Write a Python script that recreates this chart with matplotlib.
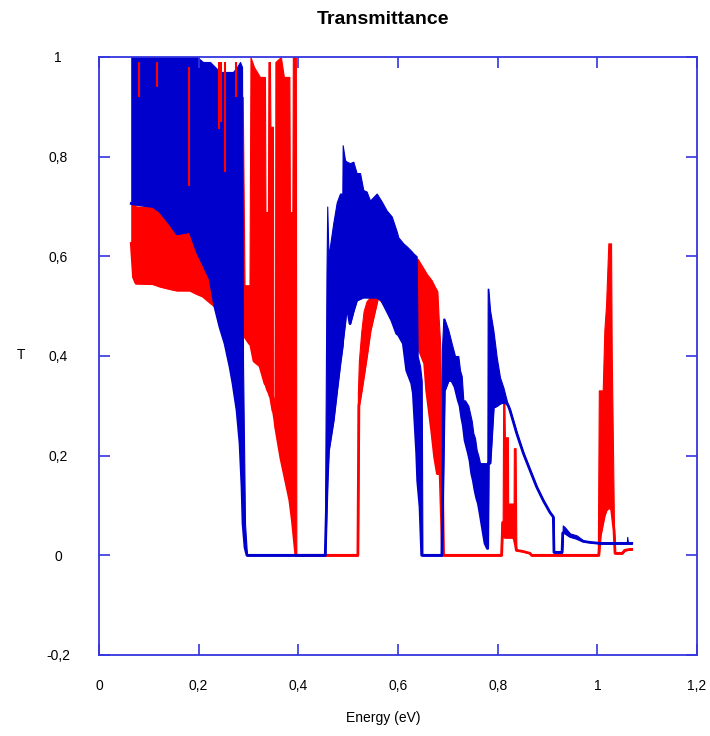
import matplotlib
matplotlib.use("Agg")
import matplotlib.pyplot as plt

# transmittance curves as (energy, lower edge, upper edge)
# of the densely oscillating band
red_x = [0.0648, 0.0692, 0.0743, 0.1084, 0.1224, 0.1425, 0.1565, 0.1826, 0.1967, 0.2087, 0.2228, 0.2328,
         0.2450, 0.2700, 0.2865, 0.2884, 0.2920, 0.3020, 0.3040, 0.3110, 0.3230, 0.3330, 0.3340, 0.3390,
         0.3400, 0.3430, 0.3440, 0.3490, 0.3500, 0.3530, 0.3540, 0.3650, 0.3710, 0.3820, 0.3830, 0.3880,
         0.3890, 0.3950, 0.3960,
         0.5190, 0.5195, 0.5215, 0.5264, 0.5310, 0.5370, 0.5440, 0.5600, 0.5900, 0.6150, 0.6350, 0.6395,
         0.6535, 0.6575, 0.6675, 0.6735, 0.6790, 0.6815, 0.6845, 0.6895, 0.6920,
         0.8060, 0.8080, 0.8100, 0.8110, 0.8135, 0.8145, 0.8205, 0.8210, 0.8320, 0.8325, 0.8360, 0.8375,
         0.8500, 0.8650, 0.8680,
         1.0010, 1.0030, 1.0060, 1.0108, 1.0141, 1.0175, 1.0221, 1.0275, 1.0289, 1.0335, 1.0355, 1.0500,
         1.0550, 1.0660, 1.0690]
red_lo = [0.626, 0.558, 0.546, 0.545, 0.540, 0.535, 0.532, 0.532, 0.525, 0.520, 0.508, 0.500,
          0.500, 0.450, 0.450, 0.445, 0.440, 0.425, 0.425, 0.390, 0.380, 0.345, 0.345, 0.330,
          0.330, 0.320, 0.320, 0.290, 0.290, 0.270, 0.260, 0.195, 0.167, 0.115, 0.110, 0.070,
          0.060, 0.000, 0.000,
          0.000, 0.000, 0.300, 0.330, 0.360, 0.400, 0.450, 0.520, 0.480, 0.450, 0.420, 0.420,
          0.385, 0.331, 0.251, 0.197, 0.164, 0.164, 0.164, 0.000, 0.000,
          0.000, 0.000, 0.066, 0.066, 0.066, 0.036, 0.036, 0.036, 0.036, 0.036, 0.020, 0.010,
          0.008, 0.004, 0.000,
          0.000, 0.000, 0.040, 0.064, 0.080, 0.090, 0.095, 0.095, 0.090, 0.050, 0.004, 0.004,
          0.010, 0.012, 0.012]
red_hi = [0.706, 0.705, 0.700, 0.700, 0.690, 0.665, 0.645, 0.650, 0.610, 0.585, 0.555, 0.520,
          0.900, 0.900, 0.920, 0.920, 0.542, 0.542, 1.000, 0.980, 0.960, 0.960, 0.689, 0.689,
          0.990, 0.990, 0.860, 0.860, 0.320, 0.300, 0.990, 1.000, 0.960, 0.960, 0.689, 0.689,
          1.000, 1.000, 0.000,
          0.000, 0.325, 0.390, 0.450, 0.490, 0.510, 0.518, 0.550, 0.560, 0.570, 0.585, 0.595,
          0.572, 0.565, 0.552, 0.540, 0.530, 0.478, 0.425, 0.171, 0.000,
          0.000, 0.066, 0.066, 0.307, 0.307, 0.237, 0.237, 0.104, 0.104, 0.215, 0.215, 0.012,
          0.008, 0.004, 0.000,
          0.000, 0.331, 0.331, 0.331, 0.452, 0.502, 0.626, 0.626, 0.405, 0.050, 0.004, 0.004,
          0.010, 0.012, 0.012]

blue_x = [0.0648, 0.0692, 0.1084, 0.1224, 0.1425, 0.1565, 0.1826, 0.1967, 0.2087, 0.2228, 0.2328, 0.2428,
          0.2529, 0.2630, 0.2689, 0.2770, 0.2830, 0.2870, 0.2890, 0.2930, 0.2970,
          0.4535, 0.4540, 0.4565, 0.4580, 0.4605, 0.4700, 0.4770, 0.4836, 0.4883, 0.4890, 0.4937, 0.4970,
          0.5037, 0.5103, 0.5170, 0.5238, 0.5304, 0.5370, 0.5438, 0.5573, 0.5673, 0.5773, 0.5874, 0.5974,
          0.6007, 0.6107, 0.6175, 0.6275, 0.6308, 0.6375, 0.6395, 0.6442, 0.6476, 0.6490,
          0.6877, 0.6880, 0.6910, 0.6930, 0.7010, 0.7078, 0.7144, 0.7210, 0.7245, 0.7278, 0.7311, 0.7345,
          0.7412, 0.7445, 0.7479, 0.7512, 0.7546, 0.7579, 0.7612, 0.7646, 0.7680, 0.7746, 0.7793, 0.7800,
          0.7813, 0.7847, 0.7913, 0.7980, 0.8047, 0.8114, 0.8181, 0.8214, 0.8248, 0.8382, 0.8515, 0.8649,
          0.8784, 0.8916, 0.9050, 0.9117, 0.9130, 0.9292, 0.9306, 0.9352, 0.9452, 0.9587, 0.9719, 0.9853,
          1.0054, 1.0590, 1.0600, 1.0616, 1.0690]
blue_lo = [0.706, 0.705, 0.700, 0.690, 0.665, 0.645, 0.650, 0.610, 0.585, 0.555, 0.498, 0.458,
           0.425, 0.378, 0.345, 0.291, 0.225, 0.137, 0.064, 0.016, 0.000,
           0.000, 0.000, 0.097, 0.150, 0.210, 0.270, 0.330, 0.385, 0.420, 0.430, 0.470, 0.505,
           0.465, 0.490, 0.512, 0.515, 0.518, 0.518, 0.518, 0.518, 0.512, 0.492, 0.472, 0.445,
           0.443, 0.425, 0.371, 0.345, 0.325, 0.205, 0.150, 0.097, 0.000, 0.000,
           0.000, 0.000, 0.200, 0.330, 0.351, 0.351, 0.338, 0.311, 0.300, 0.277, 0.260, 0.231,
           0.205, 0.190, 0.164, 0.150, 0.130, 0.115, 0.104, 0.085, 0.064, 0.024, 0.014, 0.014,
           0.185, 0.185, 0.297, 0.300, 0.305, 0.307, 0.305, 0.300, 0.291, 0.245, 0.205, 0.171,
           0.137, 0.110, 0.086, 0.077, 0.006, 0.006, 0.045, 0.045, 0.038, 0.034, 0.028, 0.026,
           0.024, 0.024, 0.024, 0.024, 0.024]
blue_hi = [1.000, 1.000, 1.000, 1.000, 1.000, 1.000, 1.000, 1.000, 0.990, 0.990, 0.980, 0.970,
           0.970, 0.970, 0.970, 0.980, 0.990, 0.980, 0.385, 0.064, 0.000,
           0.000, 0.157, 0.566, 0.700, 0.600, 0.666, 0.708, 0.726, 0.726, 0.823, 0.793, 0.790,
           0.787, 0.790, 0.767, 0.767, 0.733, 0.730, 0.712, 0.726, 0.710, 0.692, 0.680, 0.650,
           0.638, 0.626, 0.620, 0.610, 0.606, 0.600, 0.400, 0.380, 0.350, 0.000,
           0.000, 0.411, 0.475, 0.475, 0.452, 0.425, 0.400, 0.400, 0.371, 0.360, 0.311, 0.311,
           0.300, 0.285, 0.270, 0.245, 0.235, 0.211, 0.200, 0.185, 0.185, 0.185, 0.185, 0.535,
           0.535, 0.492, 0.452, 0.398, 0.357, 0.337, 0.311, 0.300, 0.291, 0.245, 0.205, 0.171,
           0.137, 0.110, 0.086, 0.077, 0.006, 0.006, 0.060, 0.056, 0.044, 0.040, 0.030, 0.027,
           0.024, 0.024, 0.037, 0.024, 0.024]

# thin red spikes that show through the blue band near the top
spike_x = [0.0800, 0.1160, 0.1796, 0.2408, 0.2448, 0.2519, 0.2759]
spike_lo = [0.92, 0.94, 0.742, 0.855, 0.87, 0.77, 0.92]
spike_hi = [0.99, 0.99, 0.98, 0.99, 0.99, 0.99, 0.99]

xticks = [0, 0.2, 0.4, 0.6, 0.8, 1.0, 1.2]
xticklabels = ["0", "0,2", "0,4", "0,6", "0,8", "1", "1,2"]
yticks = [-0.2, 0, 0.2, 0.4, 0.6, 0.8, 1.0]
yticklabels = ["-0,2", "0", "0,2", "0,4", "0,6", "0,8", "1"]

RED = "#ff0000"
BLUE = "#0000cc"
FRAME = "#3535e0"

plt.rcParams["font.family"] = ["Liberation Sans", "DejaVu Sans"]

fig = plt.figure(figsize=(7.10, 7.36), dpi=100)
ax = fig.add_axes([99 / 710, 81 / 736, 598 / 710, 598 / 736])

# red underneath, blue on top (explicit zorder: fills default below lines)
ax.fill_between(red_x, red_lo, red_hi, color=RED, lw=0.8, zorder=1.0)
ax.plot(red_x, red_lo, color=RED, lw=2, zorder=1.1)
ax.fill_between(blue_x, blue_lo, blue_hi, color=BLUE, lw=0.8, zorder=1.2)
ax.plot(blue_x, blue_lo, color=BLUE, lw=2, zorder=1.3)
ax.vlines(spike_x, spike_lo, spike_hi, color=RED, lw=1.5, zorder=1.4)

ax.set_xlim(0, 1.2)
ax.set_ylim(-0.2, 1.0)
ax.set_xticks(xticks)
ax.set_xticklabels(xticklabels)
ax.set_yticks(yticks)
ax.set_yticklabels(yticklabels)
ax.tick_params(direction="in", length=8, width=1.2, color=FRAME, top=True, right=True,
               labelsize=10)
ax.tick_params(axis="x", pad=17)
ax.tick_params(axis="y", pad=29.5)
# y labels are centred in a column, not right aligned
for lab in ax.get_yticklabels():
    lab.set_horizontalalignment("center")
for sp in ax.spines.values():
    sp.set_color(FRAME)
    sp.set_linewidth(1.3)

fig.text(383 / 710, 1 - 19 / 736, "Transmittance", ha="center", va="center",
         fontsize=14, fontweight="bold")
fig.text(383 / 710, 1 - 718 / 736, "Energy (eV)", ha="center", va="center", fontsize=10)
fig.text(21 / 710, 1 - 355 / 736, "T", ha="center", va="center", fontsize=10)

fig.savefig("out.png", dpi=100)
